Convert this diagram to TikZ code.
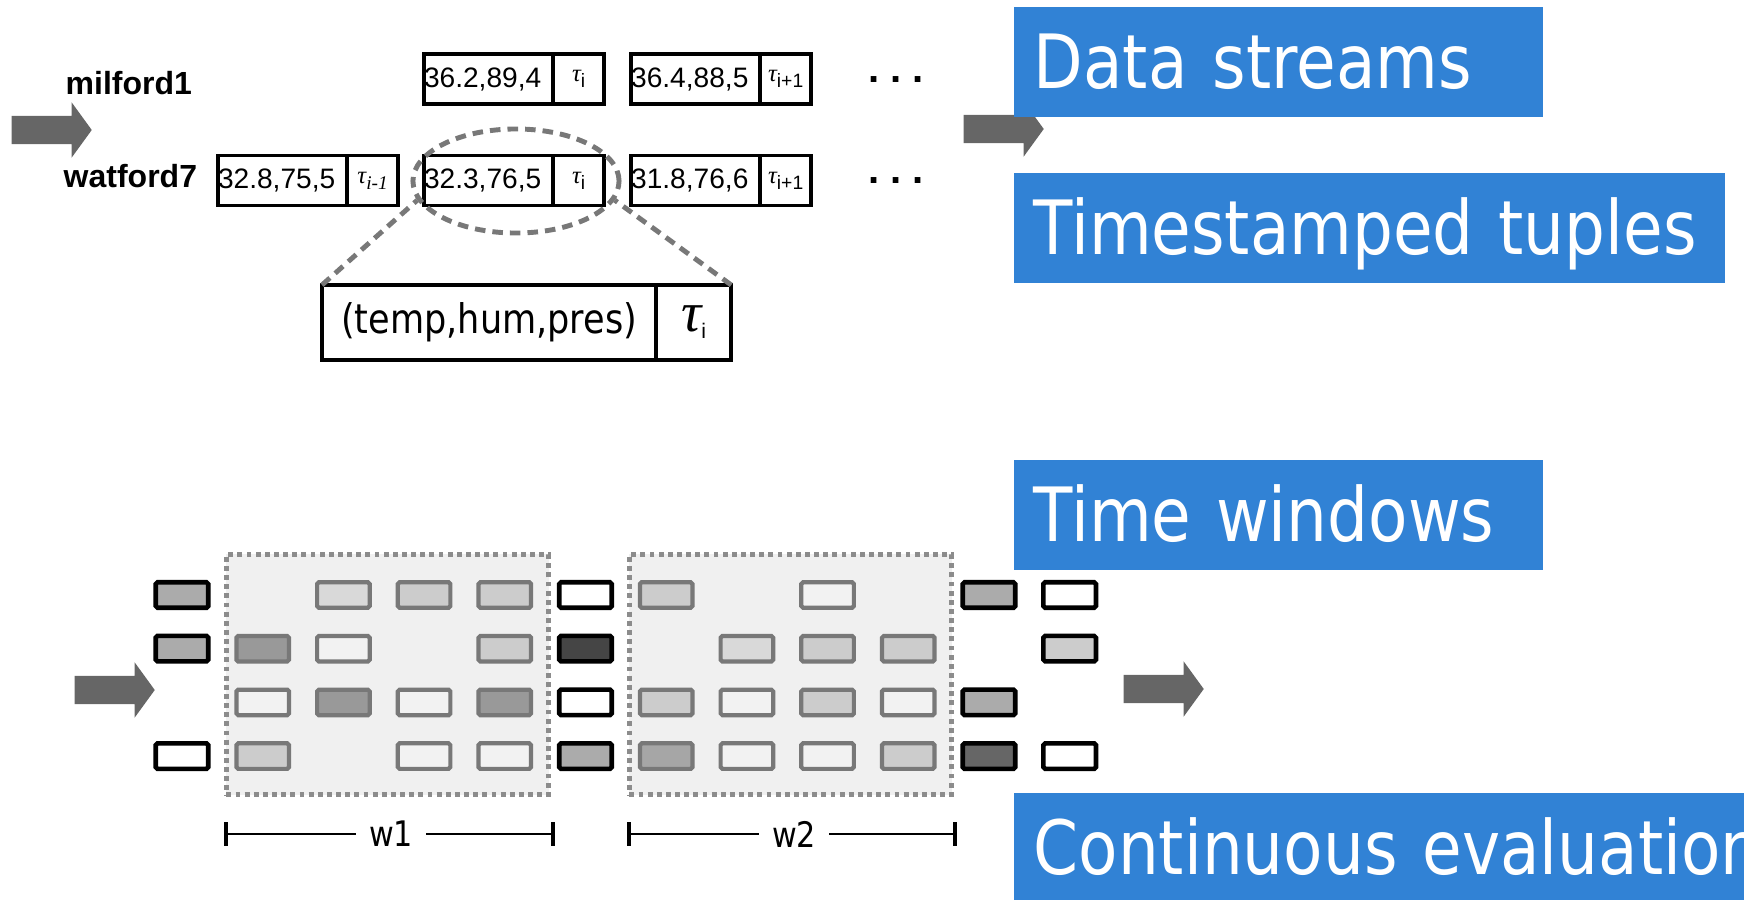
\documentclass[tikz,border=0pt]{standalone}
\usepackage{fontspec}
\setmainfont{Liberation Sans}
\newfontfamily\slidefont[FakeStretch=0.86]{DejaVu Sans}
\newfontfamily\serifit{Liberation Serif}
\usetikzlibrary{positioning,shapes.geometric,shapes.arrows}

\definecolor{slideblue}{RGB}{49,130,213}
\definecolor{arrowgray}{gray}{0.40}
\definecolor{dashgray}{gray}{0.47}
\definecolor{winfill}{gray}{0.94}
\definecolor{wingray}{gray}{0.55}
\definecolor{cellline}{gray}{0.47}
\definecolor{g95}{gray}{0.95}
\definecolor{g85}{gray}{0.85}
\definecolor{g80}{gray}{0.80}
\definecolor{g67}{gray}{0.67}
\definecolor{g65}{gray}{0.65}
\definecolor{g60}{gray}{0.60}
\definecolor{g40}{gray}{0.40}
\definecolor{g27}{gray}{0.27}

\newcommand{\tsym}[1]{{\serifit\itshape τ}\raisebox{-0.45ex}{\fontsize{5.5}{5.5}\selectfont #1}}
\newcommand{\bigtau}{{\fontsize{16}{16}\selectfont\serifit\itshape τ}\raisebox{-2pt}{\fontsize{6}{6}\selectfont i}}

\tikzset{
  blockarrow/.style={single arrow, fill=arrowgray, draw=none, minimum height=8mm, minimum width=5.4mm,
    single arrow head extend=1.35mm, single arrow tip angle=108, inner xsep=0pt, inner ysep=1.35mm,
    text height=0pt, text depth=0pt, anchor=tail},
  stream/.style={font=\fontsize{9.1}{11}\selectfont\bfseries, anchor=base west, inner sep=0pt},
  val/.style={draw, line width=1.1pt, minimum height=5mm, text width=12.9mm, align=left,
    inner sep=0pt, outer sep=0pt, font=\fontsize{8}{9}\selectfont},
  ts/.style={draw, line width=1.1pt, minimum height=5mm, minimum width=5.1mm,
    inner sep=0pt, outer sep=0pt, font=\fontsize{7}{9}\selectfont},
  dots/.style={font=\fontsize{11.4}{12}\selectfont\bfseries, anchor=base, inner sep=0pt},
  zoomline/.style={draw=dashgray, line width=1.4pt, dash pattern=on 3pt off 2pt},
  lbl/.style={fill=slideblue, text=white, anchor=north west, minimum height=11mm, inner xsep=2mm,
    align=left, font=\slidefont\fontsize{21.3}{24}\selectfont, text height=15.5pt, text depth=0pt},
  window/.style={fill=winfill, draw=wingray, line width=1.4pt, dash pattern=on 1.4pt off 1.2pt,
    minimum width=32.2mm, minimum height=24mm, inner sep=0pt},
  outbox/.style={draw=black, line width=1.3pt, rounded corners=0.5pt,
    minimum width=5.25mm, minimum height=2.55mm, inner sep=0pt},
  inbox/.style={draw=cellline, line width=1.2pt, rounded corners=0.5pt,
    minimum width=5.25mm, minimum height=2.55mm, inner sep=0pt},
  span/.style={font=\slidefont\fontsize{10}{12}\selectfont, inner sep=3.5pt},
  spanline/.style={draw=black, line width=0.5pt},
  tick/.style={draw=black, line width=1.3pt},
}

\begin{document}
\begin{tikzpicture}[x=0.01cm, y=-0.01cm]
  \useasboundingbox (0,0) rectangle (1744,900);
  \clip (0,0) rectangle (1744,900);

  % Arrows in and out
  \node[blockarrow] (inTop) at (11,130) {};
  \node[blockarrow] (outTop) at (963,129) {};
  \node[blockarrow] (inBot) at (74,690) {};
  \node[blockarrow] (outBot) at (1123,689) {};

  % Stream milford1
  \node[stream] (mil) at (65,94) {milford1};
  \node[val, anchor=west] (m1a) at (424,79) {36.2,89,4};
  \node[ts, right=0pt of m1a] (m1b) {\tsym{i}};
  \node[val, right=2.7mm of m1b] (m2a) {36.4,88,5};
  \node[ts, right=0pt of m2a] (m2b) {\tsym{i+1}};
  \node[dots] (mdots) at (896,82) {.~.~.};

  % Stream watford7
  \node[stream] (wat) at (63,187) {watford7};
  \node[val, anchor=west] (w0a) at (218,180.5) {32.8,75,5};
  \node[ts, right=0pt of w0a] (w0b) {\tsym{\serifit\itshape i-1}};
  \node[val, anchor=west] (w1a) at (424,180.5) {32.3,76,5};
  \node[ts, right=0pt of w1a] (w1b) {\tsym{i}};
  \node[val, right=2.7mm of w1b] (w2a) {31.8,76,6};
  \node[ts, right=0pt of w2a] (w2b) {\tsym{i+1}};
  \node[dots] (wdots) at (896,183) {.~.~.};

  % Zoom on one tuple
  \node[zoomline, ellipse, minimum width=20.6mm, minimum height=10.4mm, inner sep=0pt] (focus) at (516,181) {};
  \node[val, anchor=west, text width=33.4mm, minimum height=7.5mm, align=center,
        font=\slidefont\fontsize{11.6}{13}\selectfont] (biga) at (322,322.5) {(temp,hum,pres)};
  \node[ts, minimum width=7.5mm, minimum height=7.5mm, right=0pt of biga] (bigb) {\bigtau};
  \draw[zoomline] (biga.north west) -- (focus.191);
  \draw[zoomline] (bigb.north east) -- (focus.-11);

  % Time windows
  \node[window] (win1) at (387.5,674.5) {};
  \node[window] (win2) at (790.5,674.5) {};

  % Tuples as cells: column/row/fill/style
  \foreach \c/\r/\f/\s in {0/0/g67/outbox, 0/1/g67/outbox, 0/3/white/outbox,
      1/1/g60/inbox, 1/2/g95/inbox, 1/3/g80/inbox,
      2/0/g85/inbox, 2/1/g95/inbox, 2/2/g60/inbox,
      3/0/g80/inbox, 3/2/g95/inbox, 3/3/g95/inbox,
      4/0/g80/inbox, 4/1/g80/inbox, 4/2/g60/inbox, 4/3/g95/inbox,
      5/0/white/outbox, 5/1/g27/outbox, 5/2/white/outbox, 5/3/g67/outbox,
      6/0/g80/inbox, 6/2/g80/inbox, 6/3/g65/inbox,
      7/1/g85/inbox, 7/2/g95/inbox, 7/3/g95/inbox,
      8/0/g95/inbox, 8/1/g80/inbox, 8/2/g80/inbox, 8/3/g95/inbox,
      9/1/g80/inbox, 9/2/g95/inbox, 9/3/g80/inbox,
      10/0/g67/outbox, 10/2/g67/outbox, 10/3/g40/outbox,
      11/0/white/outbox, 11/1/g80/outbox, 11/3/white/outbox}
    \node[\s, fill=\f] (c\c-\r) at ({182+80.7*\c},{595+53.7*\r}) {};

  % Window spans
  \coordinate (w1l) at (226,834);
  \coordinate (w1r) at (553,834);
  \node[span] (w1lab) at (391,834) {w1};
  \draw[spanline] (w1l) -- (w1lab);
  \draw[spanline] (w1lab) -- (w1r);
  \draw[tick] ([yshift=1.15mm]w1l) -- ([yshift=-1.15mm]w1l);
  \draw[tick] ([yshift=1.15mm]w1r) -- ([yshift=-1.15mm]w1r);
  \coordinate (w2l) at (629,834);
  \coordinate (w2r) at (955,834);
  \node[span] (w2lab) at (794,834) {w2};
  \draw[spanline] (w2l) -- (w2lab);
  \draw[spanline] (w2lab) -- (w2r);
  \draw[tick] ([yshift=1.15mm]w2l) -- ([yshift=-1.15mm]w2l);
  \draw[tick] ([yshift=1.15mm]w2r) -- ([yshift=-1.15mm]w2r);

  % Slide labels
  \node[lbl, text width=48.9mm] (lblData) at (1013,6) {Data streams};
  \node[lbl, text width=67.1mm] (lblTuples) at (1013,172) {Timestamped tuples};
  \node[lbl, text width=48.9mm] (lblWin) at (1013,459) {Time windows};
  \node[lbl, text width=80mm] (lblEval) at (1013,792) {Continuous evaluation};
\end{tikzpicture}
\end{document}
